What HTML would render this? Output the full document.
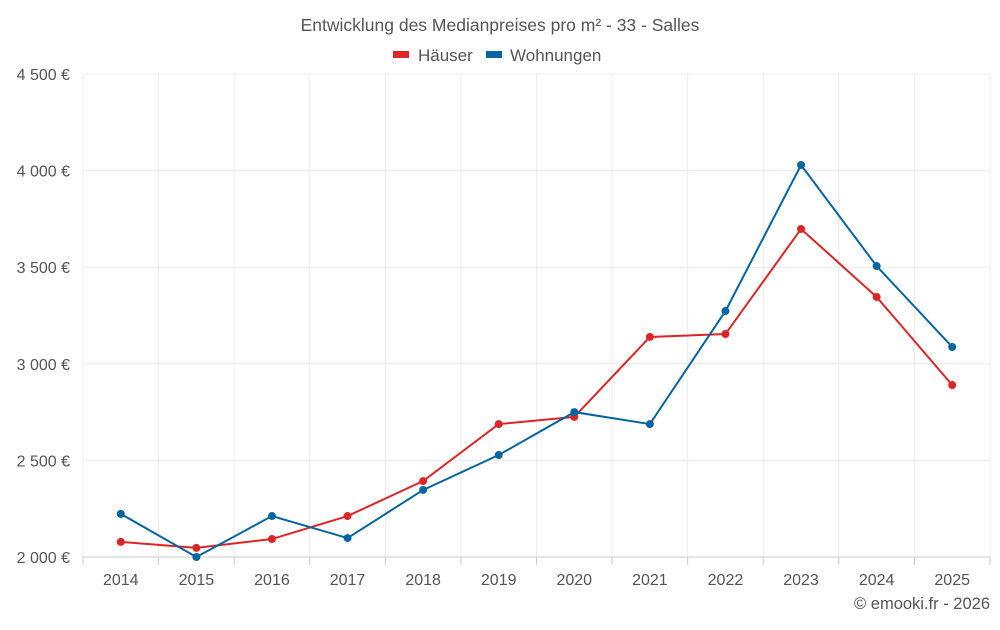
<!DOCTYPE html>
<html><head><meta charset="utf-8"><style>
body{margin:0;background:#fff;font-family:"Liberation Sans",sans-serif}
svg text{font-family:"Liberation Sans",sans-serif;fill:#555}
</style></head><body>
<svg id="c" width="1000" height="625">
<text x="500" y="31" text-anchor="middle" font-size="17.5">Entwicklung des Medianpreises pro m² - 33 - Salles</text>
<g>
<g><rect x="393" y="51" width="16" height="7" fill="#dc2626"/><text x="418" y="61" font-size="17">Häuser</text></g>
<g><rect x="486" y="51" width="16" height="7" fill="#0565a0"/><text x="510" y="61" font-size="17">Wohnungen</text></g>
</g>
<g id="grid"></g><g id="axes"></g><g id="series"></g>
<text x="990" y="609" text-anchor="end" font-size="16.5">© emooki.fr - 2026</text>
</svg>
<script>
const years=[2014,2015,2016,2017,2018,2019,2020,2021,2022,2023,2024,2025];
const haeuser=[2078,2047,2093,2212,2393,2688,2725,3139,3154,3698,3346,2890];
const wohnungen=[2223,2000,2212,2098,2347,2528,2750,2688,3273,4029,3506,3087];
const yTicks=[2000,2500,3000,3500,4000,4500];
const yLabels=["2 000 €","2 500 €","3 000 €","3 500 €","4 000 €","4 500 €"];
const L=83,R=990,T=74,B=557,ymin=2000,ymax=4500;
const bw=(R-L)/years.length;
const x=i=>L+bw*(i+0.5);
const y=v=>B-(v-ymin)/(ymax-ymin)*(B-T);
const NS="http://www.w3.org/2000/svg";
function mk(p,tag,a){const e=document.createElementNS(NS,tag);for(const k in a)e.setAttribute(k,a[k]);p.appendChild(e);return e;}
const g=document.getElementById('grid'),ax=document.getElementById('axes'),s=document.getElementById('series');
yTicks.forEach((v,i)=>{
const l=mk(g,'line',{x1:L,x2:R,y1:y(v),y2:y(v),stroke:i?'#ececec':'#ccc'});


const t=mk(ax,'text',{x:70,y:y(v)+6,'text-anchor':'end','font-size':16});
t.textContent=yLabels[i];


});
for(let i=0;i<=years.length;i++){
const xx=L+bw*i;
const l=mk(g,'line',{x1:xx,x2:xx,y1:T,y2:B,stroke:'#ececec'});


const tk=mk(ax,'line',{x1:xx,x2:xx,y1:B,y2:B+8,stroke:'#ccc'});


}
years.forEach((yr,i)=>{
const t=mk(ax,'text',{x:x(i),y:585,'text-anchor':'middle','font-size':16});
t.textContent=yr;


});
function draw(data,color,name){
const p=mk(s,'polyline',{points:data.map((v,i)=>x(i)+','+y(v)).join(' '),fill:'none',stroke:color,'stroke-width':2});


data.forEach((v,i)=>{
const c=mk(s,'circle',{cx:x(i),cy:y(v),r:4,fill:color});


});
}
draw(haeuser,'#dc2626','haeuser');
draw(wohnungen,'#0565a0','wohnungen');
</script>
</body></html>
